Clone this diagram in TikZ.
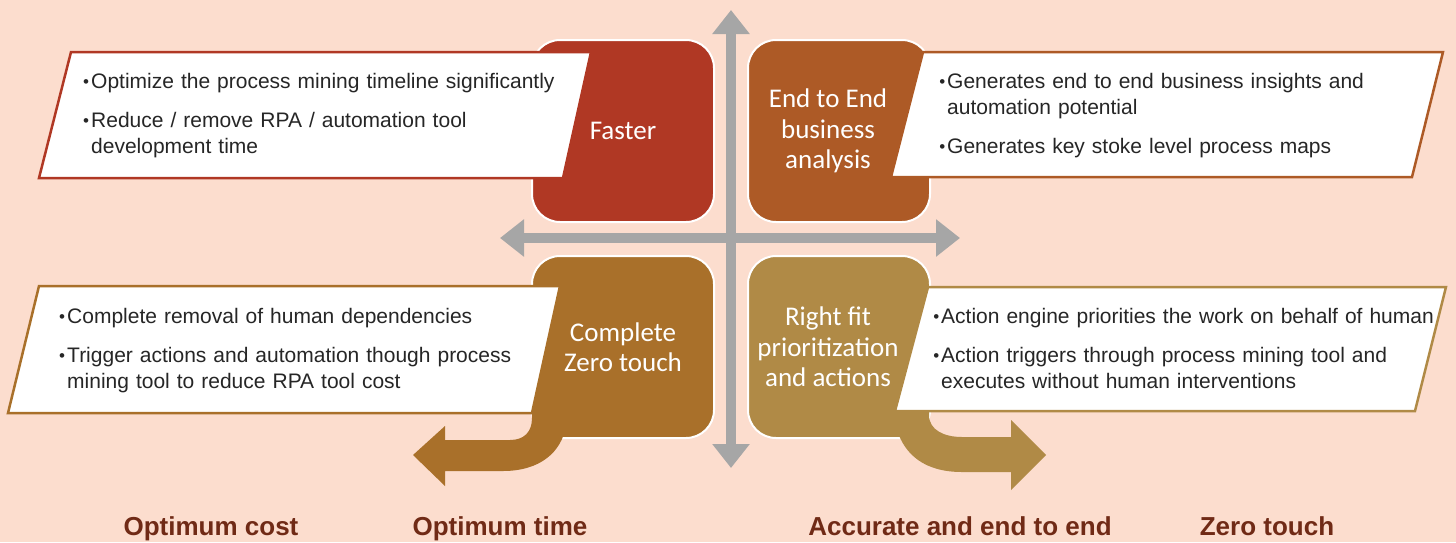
\documentclass[tikz,border=0pt]{standalone}
\usepackage{fontspec}
\setmainfont{Liberation Sans}
\newfontfamily\boxfont{Carlito}
\usetikzlibrary{arrows.meta}

\definecolor{bgc}{RGB}{252,221,206}
\definecolor{fastc}{RGB}{176,56,36}
\definecolor{endc}{RGB}{173,90,38}
\definecolor{zeroc}{RGB}{169,112,42}
\definecolor{rightc}{RGB}{176,138,70}
\definecolor{axisc}{RGB}{166,166,166}
\definecolor{labc}{RGB}{112,42,22}
\definecolor{txtc}{RGB}{38,38,38}

\newcommand{\bul}{\leavevmode\llap{\raisebox{0.5pt}{\fontsize{17}{17}\selectfont\textbullet}\hspace{2pt}}}

\begin{document}
\begin{tikzpicture}[x=1pt,y=-1pt,
  card/.style={draw=white, line width=2pt, rounded corners=28pt,
    minimum width=182pt, minimum height=182pt},
  cardtext/.style={text=white, align=center, inner sep=0pt,
    font=\boxfont\fontsize{27}{30.5}\selectfont},
  quad/.style={fill=white, line width=2.5pt},
  note/.style={anchor=base west, inner sep=0pt, text width=520pt, align=left,
    text=txtc, font=\fontsize{21}{26}\selectfont},
  axis/.style={draw=axisc, line width=10pt,
    {Triangle[width=36pt,length=24pt]}-{Triangle[width=36pt,length=24pt]}},
  goal/.style={anchor=base, text=labc, font=\bfseries\fontsize{26}{30}\selectfont}]

% fond
\useasboundingbox (0,0) rectangle (1456,542);
\fill[bgc] (0,0) rectangle (1456,542);

% axes
\coordinate (vtop) at (731,10);
\coordinate (vbot) at (731,468);
\coordinate (hleft) at (500,238);
\coordinate (hright) at (960,238);
\draw[axis] (vtop) -- (vbot);
\draw[axis] (hleft) -- (hright);

% quadrants
\node[card, fill=fastc] (faster) at (623,131) {};
\node[card, fill=endc] (endtoend) at (839,131) {};
\node[card, fill=zeroc] (zerotouch) at (623,347) {};
\node[card, fill=rightc] (rightfit) at (839,347) {};

% fleches courbes
\fill[zeroc] (532,400) -- (532,418) .. controls (532,432) and (524,440) .. (510,440)
  -- (445,440) -- (445,426) -- (413,455) -- (445,486) -- (445,471) -- (503,471)
  .. controls (540,471) and (562,452) .. (566,425) -- (566,400) -- cycle;
\fill[rightc] (929,400) -- (929,415) .. controls (929,430) and (944,437) .. (962,437)
  -- (1011,437) -- (1011,420) -- (1046,455) -- (1011,490) -- (1011,472) -- (962,472)
  .. controls (925,472) and (905,455) .. (897,430) -- (897,400) -- cycle;

% titres des quadrants
\node[cardtext] (fastertext) at (faster.center) {Faster};
\node[cardtext] (endtext) at ([xshift=-11pt]endtoend.center) {End to End\\business\\analysis};
\node[cardtext] (zerotext) at (zerotouch.center) {Complete\\Zero touch};
\node[cardtext] (righttext) at ([xshift=-11pt]rightfit.center) {Right fit\\prioritization\\and actions};

% textes
\filldraw[quad, draw=fastc] (71,52) -- (591,52) -- (563,178) -- (39,178) -- cycle;
\node[note] (fastnote) at (91,88) {\bul Optimize the process mining timeline significantly\\[13pt]
  \bul Reduce / remove RPA / automation tool\\development time};

\filldraw[quad, draw=endc] (923,52) -- (1443,52) -- (1412,177) -- (891,177) -- cycle;
\node[note] (endnote) at (947,88) {\bul Generates end to end business insights and\\automation potential\\[13pt]
  \bul Generates key stoke level process maps};

\filldraw[quad, draw=zeroc] (39,286) -- (560,286) -- (532,413) -- (8,413) -- cycle;
\node[note] (zeronote) at (67,323) {\bul Complete removal of human dependencies\\[13pt]
  \bul Trigger actions and automation though process\\mining tool to reduce RPA tool cost};

\filldraw[quad, draw=rightc] (928,287) -- (1446,287) -- (1415,411) -- (895,411) -- cycle;
\node[note] (rightnote) at (941,323) {\bul Action engine priorities the work on behalf of human\\[13pt]
  \bul Action triggers through process mining tool and\\executes without human interventions};

% objectifs
\node[goal] (cost) at (211,535) {Optimum cost};
\node[goal] (time) at (500,535) {Optimum time};
\node[goal] (accurate) at (960,535) {Accurate and end to end};
\node[goal] (zero) at (1267,535) {Zero touch};
\end{tikzpicture}
\end{document}
